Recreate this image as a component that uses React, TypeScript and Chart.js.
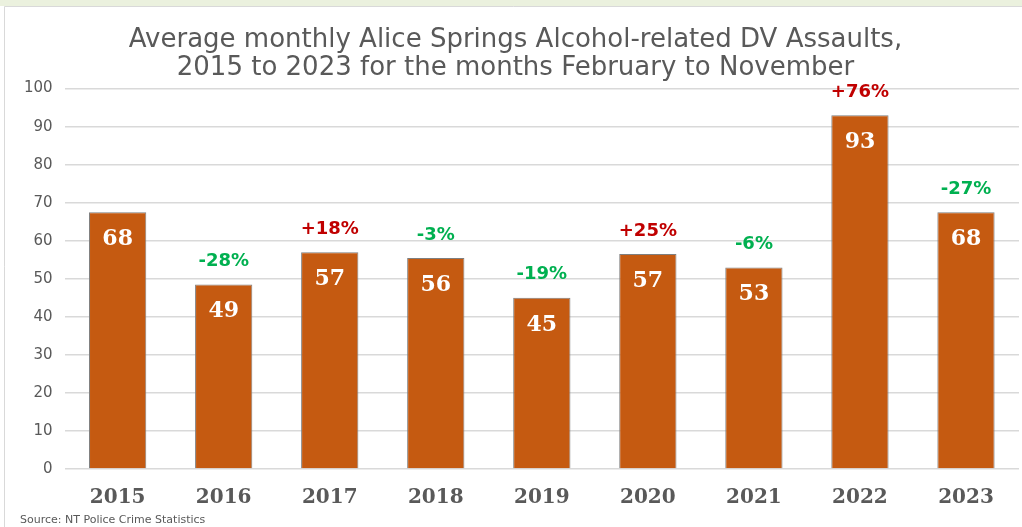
import React, { useEffect, useRef } from "react";
import { Chart, registerables } from "chart.js";

Chart.register(...registerables);

const years = ["2015", "2016", "2017", "2018", "2019", "2020", "2021", "2022", "2023"];
const averages = [67.5, 48.5, 57, 55.5, 45, 56.5, 53, 93, 67.5];
const changeLabels = ["", "-28%", "+18%", "-3%", "-19%", "+25%", "-6%", "+76%", "-27%"];
const titleLines = [
  "Average monthly Alice Springs Alcohol-related DV Assaults,",
  "2015 to 2023 for the months February to November",
];
const sourceText = "Source: NT Police Crime Statistics";

const BAR = "#C55A11";
const GRAY = "#595959";
const RED = "#C00000";
const GREEN = "#00B050";

const framePlugin = {
  id: "frame",
  beforeDraw(chart: any) {
    const ctx = chart.ctx;
    ctx.save();
    ctx.fillStyle = "#EBF1DE";
    ctx.fillRect(0, 0, chart.width, 6);
    ctx.fillStyle = "#FFFFFF";
    ctx.fillRect(0, 6, chart.width, chart.height - 6);
    ctx.strokeStyle = "#D9D9D9";
    ctx.lineWidth = 1;
    ctx.beginPath();
    ctx.moveTo(4.5, chart.height);
    ctx.lineTo(4.5, 6.5);
    ctx.lineTo(chart.width, 6.5);
    ctx.stroke();
    ctx.restore();
  },
  afterDraw(chart: any) {
    const ctx = chart.ctx;
    const meta = chart.getDatasetMeta(0);
    ctx.save();
    ctx.textAlign = "center";
    meta.data.forEach((bar: any, i: number) => {
      ctx.fillStyle = "#FFFFFF";
      ctx.font = "bold 22px 'DejaVu Serif'";
      ctx.textBaseline = "middle";
      ctx.fillText(String(Math.round(averages[i])), bar.x, bar.y + 27);
      const ch = changeLabels[i];
      if (ch) {
        ctx.fillStyle = ch.startsWith("+") ? RED : GREEN;
        ctx.font = "bold 18px 'DejaVu Sans'";
        ctx.fillText(ch, bar.x, bar.y - 23);
      }
    });
    ctx.textAlign = "left";
    ctx.textBaseline = "alphabetic";
    ctx.fillStyle = GRAY;
    ctx.font = "11px 'DejaVu Sans'";
    ctx.fillText(sourceText, 20, 523);
    ctx.restore();
  },
};

export default function App() {
  const ref = useRef<HTMLCanvasElement>(null);
  useEffect(() => {
    document.body.style.margin = "0";
    const chart = new Chart(ref.current!, {
      type: "bar",
      data: {
        labels: years,
        datasets: [
          {
            data: averages,
            backgroundColor: BAR,
            borderColor: "#7F7F7F",
            borderWidth: 1,
            barPercentage: 0.54,
            categoryPercentage: 1,
          },
        ],
      },
      options: {
        animation: false,
        responsive: false,
        layout: { padding: { left: 12, right: 3, bottom: 8, top: 0 } },
        plugins: {
          legend: { display: false },
          tooltip: { enabled: false },
          title: {
            display: true,
            text: titleLines,
            color: GRAY,
            font: { family: "'DejaVu Sans'", size: 26, weight: "normal", lineHeight: 1.05 },
            padding: { top: 27, bottom: 7 },
          },
        },
        scales: {
          x: {
            grid: { display: false },
            border: { display: false },
            ticks: { color: GRAY, font: { family: "'DejaVu Serif'", size: 20, weight: "bold" }, padding: 9 },
          },
          y: {
            min: 0,
            max: 100,
            border: { display: false },
            grid: { color: "#D9D9D9", lineWidth: 1.5, drawTicks: false },
            ticks: { stepSize: 10, color: GRAY, font: { family: "'DejaVu Sans'", size: 15 }, padding: 12 },
          },
        },
      },
      plugins: [framePlugin],
    });
    return () => chart.destroy();
  }, []);
  return <canvas ref={ref} width={1022} height={527} style={{ display: "block" }} />;
}
